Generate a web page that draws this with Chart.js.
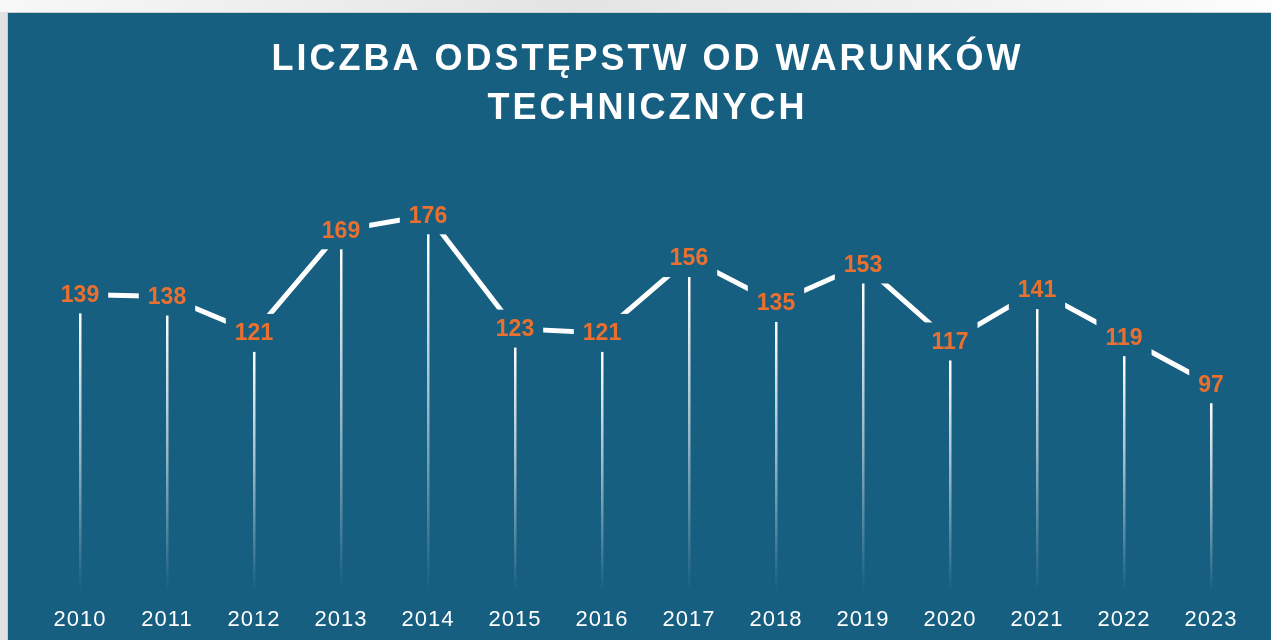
<!DOCTYPE html>
<html lang="pl">
<head>
<meta charset="utf-8">
<title>Liczba odstępstw od warunków technicznych</title>
<script src="https://cdn.jsdelivr.net/npm/chart.js@4/dist/chart.umd.min.js"></script>
<style>
  html, body {
    margin: 0;
    padding: 0;
    width: 1271px;
    height: 640px;
    overflow: hidden;
    background: #e2e2e2;
  }
  .topbar {
    position: absolute;
    left: 0;
    top: 0;
    width: 1271px;
    height: 12px;
    background: linear-gradient(to right, #f8f8f8, #e4e4e4 45%, #fdfdfd);
  }
  .panel {
    position: absolute;
    left: 7px;
    top: 12px;
    width: 1264px;
    height: 628px;
    background: #175f80;
    border-left: 1px solid #cdcdcd;
    border-top: 1px solid #cdcdcd;
  }
  canvas { display: block; }
</style>
</head>
<body>
<div class="topbar"></div>
<div class="panel">
  <canvas id="odstepstwaChart" width="1263" height="627"></canvas>
</div>
<script>
// Dane: liczba odstępstw w kolejnych latach
const years = ['2010', '2011', '2012', '2013', '2014', '2015', '2016',
               '2017', '2018', '2019', '2020', '2021', '2022', '2023'];
const counts = [139, 138, 121, 169, 176, 123, 121, 156, 135, 153, 117, 141, 119, 97];
const titleLines = ['LICZBA ODSTĘPSTW OD WARUNKÓW', 'TECHNICZNYCH'];

const PANEL_BLUE = '#175f80';
const ORANGE = '#ea7030';
const FONT = '"Liberation Sans", Arial, Helvetica, sans-serif';

// Tytuł z rozstrzelonymi literami (canvas letterSpacing)
const spacedTitle = {
  id: 'spacedTitle',
  afterDraw(chart) {
    const { ctx, chartArea } = chart;
    const cx = (chartArea.left + chartArea.right) / 2;
    ctx.save();
    ctx.font = 'bold 36px ' + FONT;
    ctx.letterSpacing = '3px';
    ctx.fillStyle = '#ffffff';
    ctx.textAlign = 'center';
    ctx.textBaseline = 'middle';
    ctx.fillText(titleLines[0], cx + 2, 47);
    ctx.fillText(titleLines[1], cx + 2, 96);
    ctx.restore();
  }
};

// Odstępy między cyframi na osi X
const tickSpacing = {
  id: 'tickSpacing',
  beforeDraw(chart) {
    chart.ctx.letterSpacing = '1px';
  }
};

// Etykiety wartości (na tle panelu, przerywają linię) + pionowe linie do osi
const pointLabels = {
  id: 'pointLabels',
  afterDatasetsDraw(chart) {
    const { ctx } = chart;
    const meta = chart.getDatasetMeta(0);
    const base = chart.scales.y.getPixelForValue(0);
    ctx.save();
    ctx.letterSpacing = '0px';
    ctx.font = 'bold 23px ' + FONT;
    ctx.textAlign = 'center';
    ctx.textBaseline = 'middle';
    meta.data.forEach((pt, i) => {
      const text = String(counts[i]);
      const w = ctx.measureText(text).width + 18;

      ctx.fillStyle = PANEL_BLUE;
      ctx.fillRect(pt.x - w / 2, pt.y - 19, w, 38);

      const top = pt.y + 19;
      const grad = ctx.createLinearGradient(0, top, 0, base);
      grad.addColorStop(0, 'rgba(255,255,255,1)');
      grad.addColorStop(0.5, 'rgba(255,255,255,0.55)');
      grad.addColorStop(1, 'rgba(255,255,255,0)');
      ctx.fillStyle = grad;
      ctx.fillRect(pt.x - 1, top, 2.5, base - top);

      ctx.fillStyle = ORANGE;
      ctx.fillText(text, pt.x, pt.y + 1);
    });
    ctx.restore();
  }
};

const ctx = document.getElementById('odstepstwaChart').getContext('2d');
const chart = new Chart(ctx, {
  type: 'line',
  data: {
    labels: years,
    datasets: [{
      label: 'Liczba odstępstw',
      data: counts,
      borderColor: '#ffffff',
      borderWidth: 5,
      pointRadius: 0,
      tension: 0,
      fill: false
    }]
  },
  options: {
    responsive: false,
    animation: false,
    layout: {
      padding: { top: 151, left: 72, right: 60, bottom: -8 }
    },
    scales: {
      x: {
        offset: false,
        grid: { display: false, drawTicks: false },
        border: { display: false },
        ticks: {
          color: '#ffffff',
          padding: 15,
          maxRotation: 0,
          autoSkip: false,
          font: { family: FONT, size: 22 }
        }
      },
      y: {
        display: false,
        min: 0,
        max: 200
      }
    },
    plugins: {
      legend: { display: false },
      title: { display: false },
      tooltip: { enabled: false }
    }
  },
  plugins: [tickSpacing, pointLabels, spacedTitle]
});
</script>
</body>
</html>
